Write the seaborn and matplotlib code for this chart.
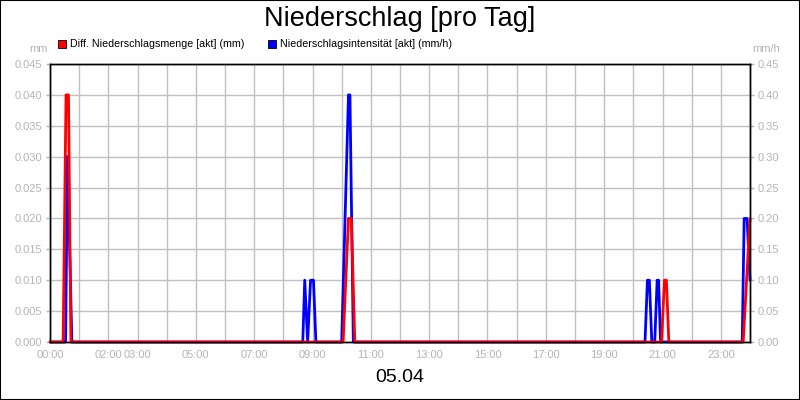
import matplotlib
matplotlib.use('Agg')
import matplotlib.pyplot as plt
from matplotlib.patches import Rectangle
import numpy as np
import pandas as pd
import seaborn as sns

TITLE = 'Niederschlag [pro Tag]'
DAY = '05.04'
RED_NAME = 'Diff. Niederschlagsmenge [akt] (mm)'
BLUE_NAME = 'Niederschlagsintensität [akt] (mm/h)'

# Diff. Niederschlagsmenge (mm), left axis
red_times = ['00:00', '00:27', '00:33', '00:38', '00:43',
             '10:03', '10:14', '10:20', '10:27',
             '20:58', '21:04', '21:08', '21:13',
             '23:46', '24:00']
red_mm = [0, 0, 0.04, 0.04, 0,
          0, 0.02, 0.02, 0,
          0, 0.01, 0.01, 0,
          0, 0.02]

# Niederschlagsintensitaet (mm/h), right axis
blue_times = ['00:00', '00:32', '00:36', '00:45',
              '08:40', '08:44', '08:50', '08:56', '09:02', '09:07',
              '10:00', '10:14', '10:17', '10:24',
              '20:24', '20:29', '20:33', '20:38',
              '20:44', '20:49', '20:52', '20:56',
              '23:44', '23:48', '23:54', '24:00']
blue_mmh = [0, 0, 0.30, 0,
            0, 0.10, 0, 0.10, 0.10, 0,
            0, 0.40, 0.40, 0,
            0, 0.10, 0.10, 0,
            0, 0.10, 0.10, 0,
            0, 0.20, 0.20, 0.10]

x_labels = {0: '00:00', 2: '02:00', 3: '03:00', 5: '05:00', 7: '07:00',
            9: '09:00', 11: '11:00', 13: '13:00', 15: '15:00',
            17: '17:00', 19: '19:00', 21: '21:00', 23: '23:00'}
left_ticks = [0, 0.005, 0.010, 0.015, 0.020, 0.025, 0.030, 0.035, 0.040, 0.045]
right_ticks = [0, 0.05, 0.10, 0.15, 0.20, 0.25, 0.30, 0.35, 0.40, 0.45]


def to_hours(s):
    h, m = s.split(':')
    return int(h) + int(m) / 60.0


red = pd.DataFrame({'t': [to_hours(s) for s in red_times], 'v': red_mm})
blue = pd.DataFrame({'t': [to_hours(s) for s in blue_times], 'v': blue_mmh})

sns.set_theme(style='white')
plt.rcParams['font.family'] = ['Liberation Sans', 'DejaVu Sans']

GRAY = '#b4b4b4'
fig = plt.figure(figsize=(8, 4), dpi=100)
ax = fig.add_axes([50 / 800, 1 - 342 / 400, 700 / 800, 278 / 400])
ax2 = ax.twinx()
ax.set_zorder(2)
ax2.set_zorder(1)
ax.patch.set_visible(False)
ax2.patch.set_facecolor('white')

sns.lineplot(data=blue, x='t', y='v', ax=ax2, color='#0000ff', lw=2.0,
             estimator=None, sort=False, legend=False, clip_on=False)
sns.lineplot(data=red, x='t', y='v', ax=ax, color='#ff0000', lw=2.0,
             estimator=None, sort=False, legend=False, clip_on=False)

ax.set_xlim(0, 24)
ax.set_ylim(0, 0.045)
ax2.set_ylim(0, 0.45)
hours = list(range(25))
ax.set_xticks(hours)
ax.set_xticklabels([x_labels.get(h, '') for h in hours])
ax.set_yticks(left_ticks)
ax.set_yticklabels(['%.3f' % v for v in left_ticks])
ax2.set_yticks(right_ticks)
ax2.set_yticklabels(['%.2f' % v for v in right_ticks])
for a in (ax, ax2):
    a.set_xlabel('')
    a.set_ylabel('')

# grid lives on the lower axes so it stays under both lines
ax2.xaxis.set_visible(True)
ax2.grid(True, axis='both', color='#c0c0c0', lw=1)
ax.grid(False)
for a in (ax, ax2):
    a.tick_params(axis='both', which='both', direction='out', length=3,
                  width=1, color=GRAY, labelcolor=GRAY, labelsize=8, pad=2.5)
    for sp in a.spines.values():
        sp.set_color('black')
        sp.set_linewidth(1)
        sp.set_visible(True)
ax2.tick_params(axis='x', bottom=False, top=False, labelbottom=False, labeltop=False)
ax.tick_params(axis='x', length=3, pad=3)
ax.tick_params(axis='y', left=True)
ax2.tick_params(axis='y', right=True)

# header texts
fig.text(0.5, 1 - 19 / 400, TITLE, ha='center', va='center', fontsize=19.5, color='black')
fig.text(0.5, 1 - 378 / 400, DAY, ha='center', va='center', fontsize=14, color='black')
fig.text(48 / 800, 1 - 49 / 400, 'mm', ha='right', va='center', fontsize=8, color=GRAY)
fig.text(752 / 800, 1 - 49 / 400, 'mm/h', ha='left', va='center', fontsize=8, color=GRAY)

# legend
for x0, col, name in ((58, '#ff0000', RED_NAME), (268, '#0000ff', BLUE_NAME)):
    fig.patches.append(Rectangle((x0 / 800, 1 - 48 / 400), 8 / 800, 8 / 400,
                                 facecolor=col, edgecolor='black', lw=0.6,
                                 transform=fig.transFigure, figure=fig))
    fig.text((x0 + 12) / 800, 1 - 44 / 400, name, ha='left', va='center',
             fontsize=7.7, color='black')

# figure frame
fig.patches.append(Rectangle((0, 0), 1, 1, fill=False, edgecolor='black', lw=1.5,
                             transform=fig.transFigure, figure=fig))

fig.savefig('out.png', dpi=100, facecolor='white')
